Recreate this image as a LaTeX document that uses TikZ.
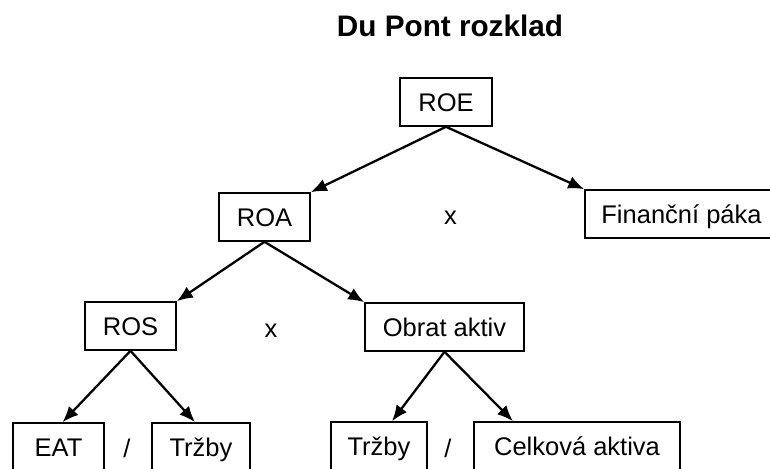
\documentclass[tikz,border=0pt]{standalone}
\usepackage{fontspec}
\setmainfont{Liberation Sans}
\usetikzlibrary{arrows.meta}
\tikzstyle{every node}=[font=\fontsize{25.5}{30}\selectfont]
\tikzstyle{box}=[draw=black,line width=1.6pt,minimum height=48pt,inner sep=0pt,text height=20pt,text depth=2pt]
\tikzstyle{op}=[anchor=base]
\tikzstyle{arr}=[line width=2.3pt,-{Latex[length=16pt,width=13pt]}]

\begin{document}
\begin{tikzpicture}[x=1pt,y=-1pt]
  \useasboundingbox (0,0) rectangle (770,468);
  \node[op,font=\fontsize{29.7}{34}\selectfont\bfseries] (title) at (450,36.7) {Du Pont rozklad};
  % boxes
  \node[box,minimum width=92pt] (roe) at (446,102) {ROE};
  \node[box,minimum width=91pt] (roa) at (264.5,217) {ROA};
  \node[box,minimum width=193pt] (fin) at (681.5,214) {Finanční páka};
  \node[box,minimum width=91pt] (ros) at (130.5,326) {ROS};
  \node[box,minimum width=159pt] (obr) at (444.5,327) {Obrat aktiv};
  \node[box,minimum width=91pt] (eat) at (58.5,447) {EAT};
  \node[box,minimum width=98pt] (trz1) at (201,447) {Tržby};
  \node[box,minimum width=96pt] (trz2) at (379,446) {Tržby};
  \node[box,minimum width=206pt] (cel) at (577,446) {Celková aktiva};
  % operators
  \node[op] (x1) at (450.5,224) {x};
  \node[op] (x2) at (271,337) {x};
  \node[op] (s1) at (127,457) {/};
  \node[op] (s2) at (448,457) {/};
  % arrows
  \draw[arr] (roe.south) -- (roa.north east);
  \draw[arr] (roe.south) -- (fin.north west);
  \draw[arr] (roa.south) -- (ros.north east);
  \draw[arr] (roa.south) -- (obr.north west);
  \draw[arr] (ros.south) -- ([xshift=4pt]eat.north);
  \draw[arr] (ros.south) -- ([xshift=-6pt]trz1.north);
  \draw[arr] (obr.south) -- ([xshift=13pt]trz2.north);
  \draw[arr] (obr.south) -- ([xshift=-64pt]cel.north);
\end{tikzpicture}
\end{document}
